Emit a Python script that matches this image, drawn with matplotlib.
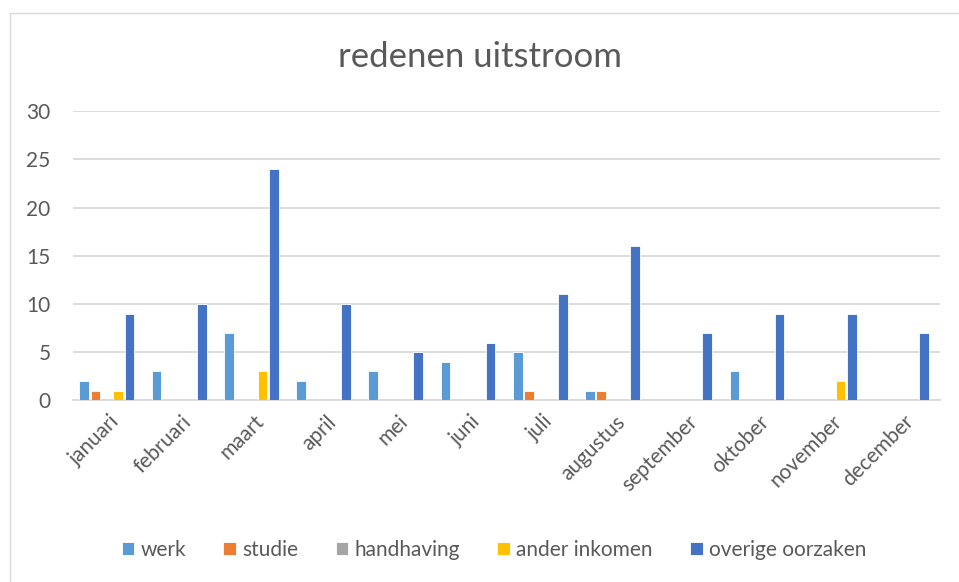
import matplotlib.pyplot as plt
import matplotlib.patches as mpatches
import numpy as np

plt.rcParams['font.family'] = ['Lato', 'DejaVu Sans']

maanden = ["januari", "februari", "maart", "april", "mei", "juni", "juli",
           "augustus", "september", "oktober", "november", "december"]
werk = [2, 3, 7, 2, 3, 4, 5, 1, 0, 3, 0, 0]
studie = [1, 0, 0, 0, 0, 0, 1, 1, 0, 0, 0, 0]
handhaving = [0, 0, 0, 0, 0, 0, 0, 0, 0, 0, 0, 0]
ander_inkomen = [1, 0, 3, 0, 0, 0, 0, 0, 0, 0, 2, 0]
overige = [9, 10, 24, 10, 5, 6, 11, 16, 7, 9, 9, 7]

reeksen = [("werk", werk, "#5B9BD5"),
           ("studie", studie, "#ED7D31"),
           ("handhaving", handhaving, "#A5A5A5"),
           ("ander inkomen", ander_inkomen, "#FFC000"),
           ("overige oorzaken", overige, "#4472C4")]

tekst = "#595959"

fig = plt.figure(figsize=(9.59, 5.82), dpi=100)
ax = fig.add_axes([0.076, 0.312, 0.904, 0.497])

x = np.arange(len(maanden))
stap = 0.156
breedte = 0.135
for i, (naam, waarden, kleur) in enumerate(reeksen):
    ax.bar(x + (i - 2) * stap - 0.03, waarden, breedte, color=kleur,
           edgecolor="white", linewidth=0.6, label=naam, zorder=3)

ax.set_xlim(-0.5, len(maanden) - 0.5)
ax.set_ylim(0, 30)
ax.set_yticks(range(0, 31, 5))
ax.yaxis.grid(True, color="#D9D9D9", linewidth=1.3, zorder=0)
ax.set_axisbelow(True)
for s in ["left", "right", "top"]:
    ax.spines[s].set_visible(False)
ax.spines["bottom"].set_color("#D9D9D9")
ax.spines["bottom"].set_linewidth(1.3)
ax.tick_params(axis="both", length=0, colors=tekst, labelsize=15)
ax.tick_params(axis="y", pad=16)
ax.set_xticks(x)
ax.set_xticklabels(maanden, rotation=45, ha="right", rotation_mode="anchor")
ax.tick_params(axis="x", pad=8)

fig.text(0.5, 0.902, "redenen uitstroom", ha="center", va="center",
         fontsize=25, color=tekst)

fig.legend(loc="center", bbox_to_anchor=(0.515, 0.055), ncol=5, frameon=False,
           fontsize=15, labelcolor=tekst, handlelength=0.6, handleheight=0.6,
           handletextpad=0.3, columnspacing=1.8)

rand = mpatches.Rectangle((10 / 959, -0.05), 1.1, 1.05 - 13 / 582,
                          transform=fig.transFigure, fill=False,
                          edgecolor="#D9D9D9", linewidth=1.0)
fig.patches.append(rand)

fig.savefig("out.png", dpi=100)
